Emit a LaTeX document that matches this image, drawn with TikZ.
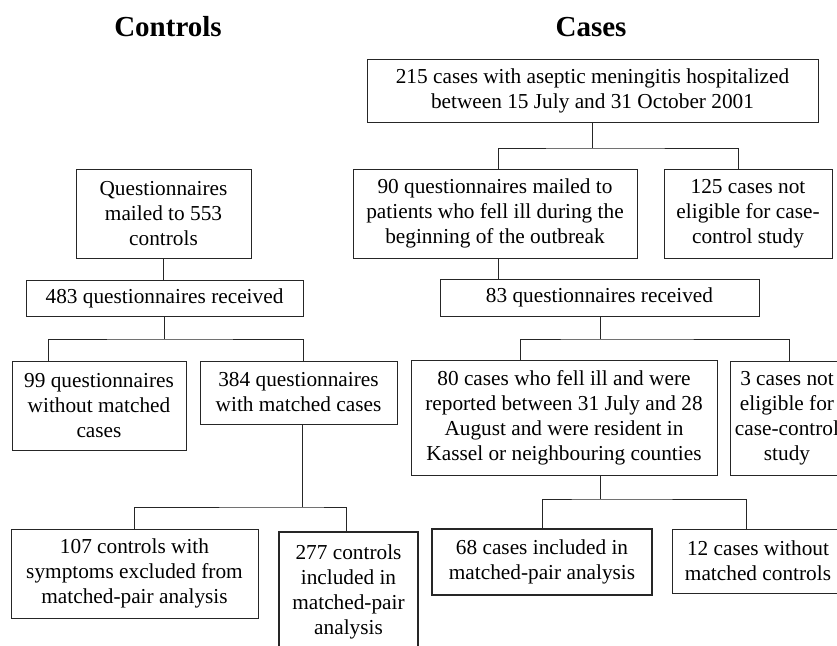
\documentclass[tikz,border=0pt]{standalone}
\usepackage{fontspec}
\setmainfont{Liberation Serif}
\begin{document}
\begin{tikzpicture}[x=1pt,y=-1pt,
  box/.style={draw=black!85, line width=0.9pt, align=center, inner sep=0pt,
    font=\fontsize{21.3}{25}\selectfont},
  thickbox/.style={box, line width=2.8pt},
  conn/.style={draw=black!85, line width=0.9pt},
  title/.style={font=\fontsize{29}{33}\selectfont\bfseries}]
\useasboundingbox (0,0) rectangle (837,645);
\clip (0,0) rectangle (837,645);
% titles
\node[title] (tctrl) at (168,27) {Controls};
\node[title] (tcase) at (591,27) {Cases};
% cases side
\node[box, minimum width=451, minimum height=63] (ctop) at (592.5,90.5)
  {215 cases with aseptic meningitis hospitalized\\between 15 July and 31 October 2001};
\node[box, minimum width=284, minimum height=89] (c90) at (495,213.5)
  {90 questionnaires mailed to\\patients who fell ill during the\\beginning of the outbreak};
\node[box, minimum width=168, minimum height=89] (c125) at (748,213.5)
  {125 cases not\\eligible for case-\\control study};
\node[box, minimum width=319, minimum height=37] (c83) at (599.5,297.5)
  {83 questionnaires received};
\node[box, minimum width=306, minimum height=115] (c80) at (564,417.5)
  {80 cases who fell ill and were\\reported between 31 July and 28\\August and were resident in\\Kassel or neighbouring counties};
\node[box, minimum width=114, minimum height=114] (c3) at (787,418)
  {3 cases not\\eligible for\\case-control\\study};
\node[thickbox, minimum width=220, minimum height=66] (c68) at (542,562)
  {68 cases included in\\matched-pair analysis};
\node[box, minimum width=172, minimum height=64] (c12) at (758,561)
  {12 cases without\\matched controls};
% controls side
\node[box, minimum width=175, minimum height=89] (q553) at (163.5,213.5)
  {Questionnaires\\mailed to 553\\controls};
\node[box, minimum width=277, minimum height=36] (q483) at (164.5,298)
  {483 questionnaires received};
\node[box, minimum width=174, minimum height=89] (q99) at (99,405.5)
  {99 questionnaires\\without matched\\cases};
\node[box, minimum width=197, minimum height=63] (q384) at (298.5,392.5)
  {384 questionnaires\\with matched cases};
\node[box, minimum width=247, minimum height=89] (q107) at (134.5,573.5)
  {107 controls with\\symptoms excluded from\\matched-pair analysis};
\node[thickbox, minimum width=139, minimum height=119] (q277) at (348.5,591.5)
  {277 controls\\included in\\matched-pair\\analysis};
% junction coordinates
\coordinate (j1) at (592.5,148);
\coordinate (j2) at (600,339);
\coordinate (j3) at (600,499);
\coordinate (k1) at (164,339);
\coordinate (k2) at (302,507);
% connectors - cases
\draw[conn] (ctop.south) -- (j1);
\draw[conn] ([xshift=3pt]c90.north) |- (j1) -| ([xshift=-10pt]c125.north);
\draw[conn] ([xshift=3pt]c90.south) -- ([xshift=3pt]c90.south |- c83.north);
\draw[conn] (c83.south -| j2) -- (j2);
\draw[conn] ([xshift=-44pt]c80.north) |- (j2) -| ([xshift=2pt]c3.north);
\draw[conn] (c80.south -| j3) -- (j3);
\draw[conn] (c68.north) |- (j3) -| ([xshift=-12pt]c12.north);
% connectors - controls
\draw[conn] (q553.south) -- (q553.south |- q483.north);
\draw[conn] (q483.south -| k1) -- (k1);
\draw[conn] ([xshift=-51pt]q99.north) |- (k1) -| ([xshift=4.5pt]q384.north);
\draw[conn] (q384.south -| k2) -- (k2);
\draw[conn] (q107.north) |- (k2) -| ([xshift=-2.5pt]q277.north);
\end{tikzpicture}
\end{document}
